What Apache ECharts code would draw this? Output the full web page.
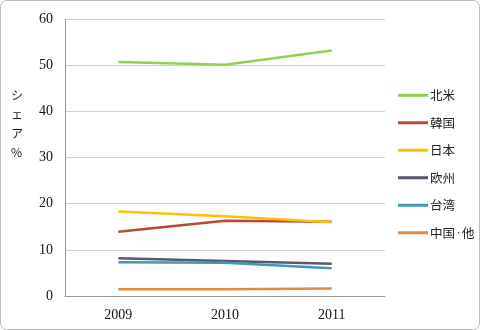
<!DOCTYPE html>
<html><head><meta charset="utf-8">
<script src="https://cdn.jsdelivr.net/npm/echarts@6/dist/echarts.min.js"></script>
<style>html,body{margin:0;padding:0;background:#fff}#c{width:480px;height:330px}</style>
</head><body><div id="c"></div>
<script>
const categories = ['2009', '2010', '2011'];
const seriesNames = ['北米', '韓国', '日本', '欧州', '台湾', '中国・他'];
const na = [50.7, 50.1, 53.2];
const korea = [13.9, 16.3, 16.1];
const japan = [18.3, 17.3, 16.0];
const europe = [8.2, 7.6, 7.0];
const taiwan = [7.3, 7.2, 6.0];
const chinaOther = [1.45, 1.45, 1.6];
const yTicks = [0, 60, 10];
const colors = ['#92d050', '#b8483a', '#ffc000', '#5b5670', '#3a9ab5', '#e8873f'];
const dataList = [na, korea, japan, europe, taiwan, chinaOther];

const chart = echarts.init(document.getElementById('c'));
chart.setOption({
  animation: false,
  grid: { left: 65, right: 95, top: 19, bottom: 34 },
  legend: {
    orient: 'vertical', left: 398, top: 89, padding: 0, itemGap: 15,
    itemWidth: 30, itemHeight: 3, icon: 'rect',
    formatter: n => n.replace('・', '{d|・}'),
    textStyle: { fontFamily: 'Noto Sans CJK JP', fontSize: 12.5, color: '#222', padding: [0, 0, 0, -3],
      rich: { d: { fontFamily: 'Noto Sans CJK JP', fontSize: 7, color: '#222' } } },
    data: seriesNames
  },
  xAxis: {
    type: 'category', data: categories, boundaryGap: true,
    axisLine: { lineStyle: { color: '#999' } },
    axisTick: { lineStyle: { color: '#999' }, length: 5 },
    axisLabel: { fontFamily: 'Liberation Serif', fontSize: 14, color: '#111', margin: 12 }
  },
  yAxis: {
    type: 'value', min: yTicks[0], max: yTicks[1], interval: yTicks[2],
    axisLine: { show: true, lineStyle: { color: '#999' } },
    axisTick: { show: false },
    splitLine: { lineStyle: { color: '#d0d0d0' } },
    axisLabel: { fontFamily: 'Liberation Serif', fontSize: 14, color: '#111', margin: 12 }
  },
  graphic: [
    { type: 'rect', shape: { x: 0.5, y: 0.5, width: 479, height: 329, r: 6 },
      style: { fill: 'none', stroke: '#bbb', lineWidth: 1 }, silent: true },
    { type: 'text', left: 11, top: 86,
      style: { text: 'シ\nェ\nア\n%', fontFamily: 'Noto Sans CJK JP', fontSize: 12, lineHeight: 19, fill: '#222' } }
  ],
  series: seriesNames.map((n, i) => ({
    name: n, type: 'line', data: dataList[i], symbol: 'none',
    lineStyle: { width: 2.5, color: colors[i] }, itemStyle: { color: colors[i] }
  }))
});
</script></body></html>
